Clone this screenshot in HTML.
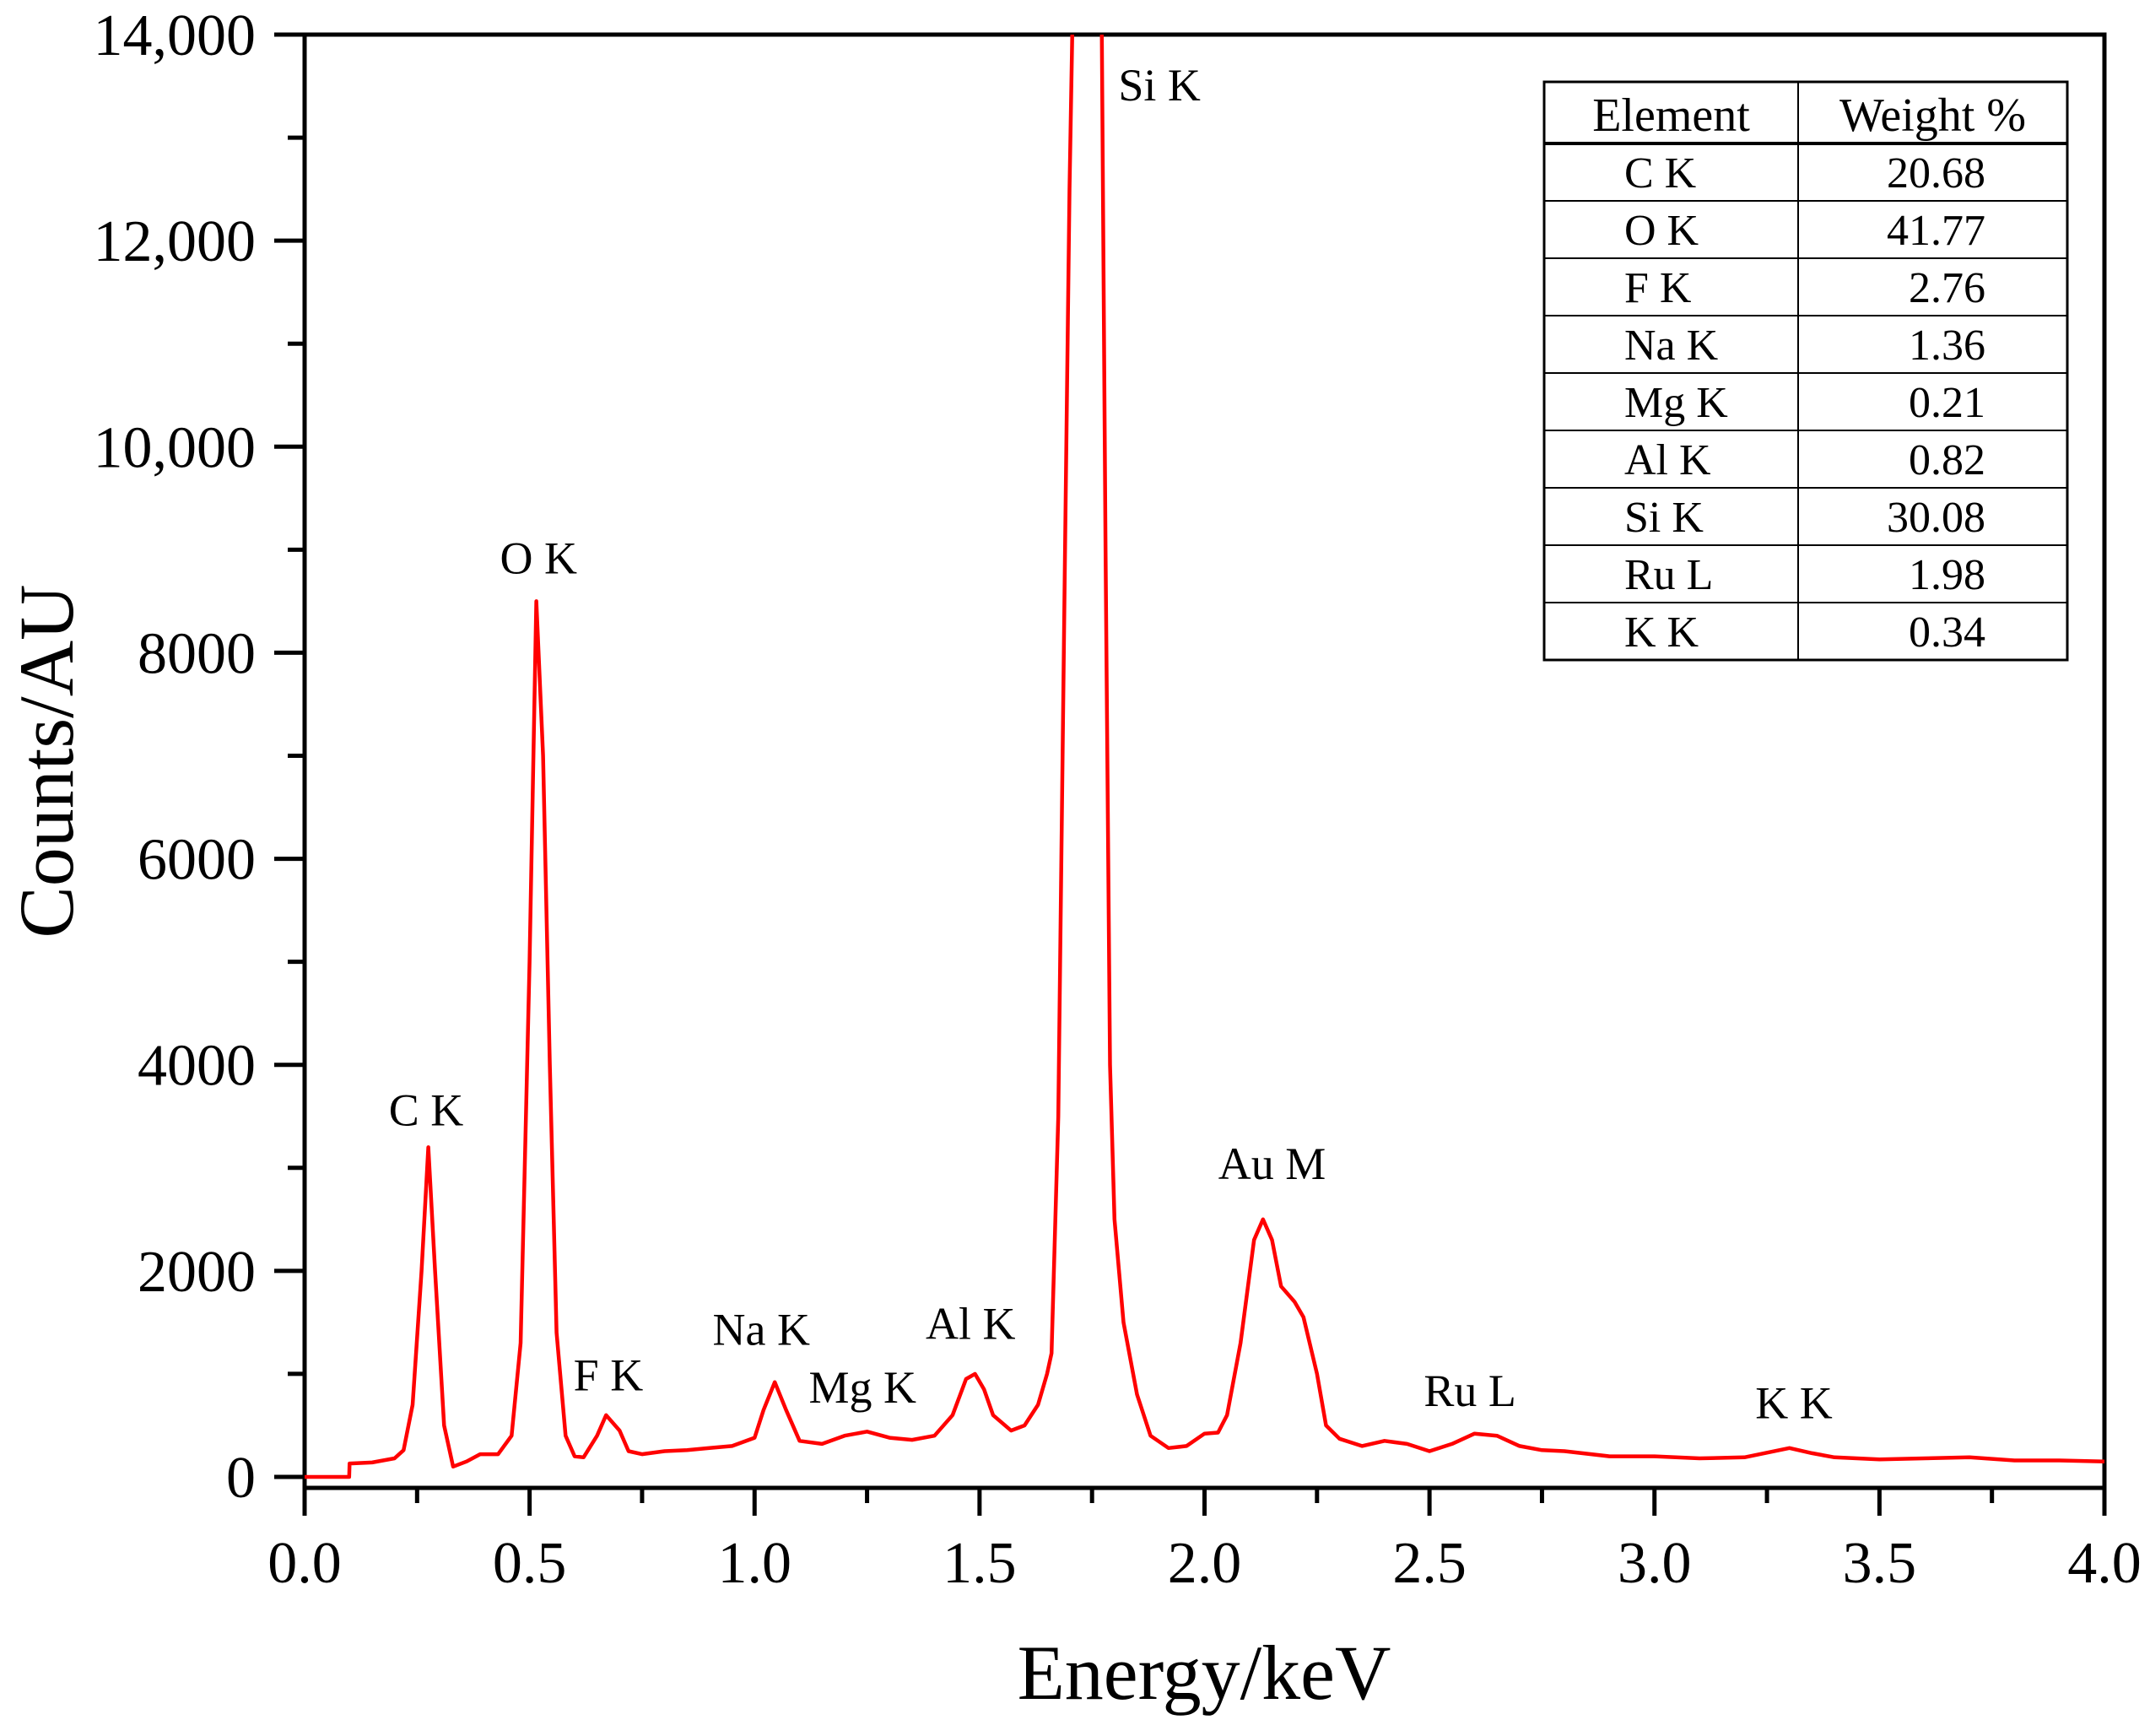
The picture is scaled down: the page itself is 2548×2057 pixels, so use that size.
<!DOCTYPE html>
<html><head><meta charset="utf-8">
<style>
html,body{margin:0;padding:0;background:#fff;}
svg{display:block;font-family:"Liberation Serif",serif;}
</style></head>
<body>
<svg id="chart" width="2548" height="2057" viewBox="0 0 2548 2057" xmlns="http://www.w3.org/2000/svg">
<defs><clipPath id="plotclip"><rect x="361" y="41" width="2133" height="1722"/></clipPath></defs>
<g id="axes"></g>
<g id="series" clip-path="url(#plotclip)"></g>
<g id="labels"></g>
<text x="1427" y="2013" font-size="92" text-anchor="middle">Energy/keV</text>
<text x="0" y="0" font-size="92" text-anchor="middle" transform="translate(86,902) rotate(-90)">Counts/AU</text>
<g id="table"></g>
</svg>
<script>
const energies=[0,0.099,0.1,0.15,0.2,0.22,0.24,0.26,0.275,0.29,0.31,0.33,0.36,0.39,0.43,0.46,0.48,0.50,0.515,0.53,0.545,0.56,0.58,0.60,0.62,0.65,0.67,0.70,0.72,0.75,0.8,0.85,0.9,0.95,1.0,1.02,1.045,1.07,1.1,1.15,1.2,1.25,1.3,1.35,1.4,1.44,1.47,1.49,1.51,1.53,1.57,1.6,1.63,1.65,1.66,1.675,1.69,1.70,1.71,1.74,1.77,1.78,1.79,1.80,1.82,1.85,1.88,1.92,1.96,2.0,2.03,2.05,2.08,2.11,2.13,2.15,2.17,2.2,2.22,2.25,2.27,2.3,2.35,2.4,2.45,2.5,2.55,2.6,2.65,2.7,2.75,2.8,2.9,3.0,3.1,3.2,3.3,3.35,3.4,3.5,3.6,3.7,3.8,3.9,4.0];
const counts=[0,0,130,140,180,260,700,2000,3200,2000,500,100,150,220,220,400,1300,5000,8500,7000,4000,1400,400,200,190,400,600,450,250,220,250,260,280,300,380,650,920,650,350,320,400,440,380,360,400,600,950,1000,850,600,450,500,700,1000,1200,3500,9000,12500,15000,30000,15000,9000,4000,2500,1500,800,400,280,300,420,430,600,1300,2300,2500,2300,1850,1700,1550,1000,500,370,300,350,320,250,320,420,400,300,260,250,200,200,180,190,280,230,190,170,180,190,160,160,150];
const yTicks=[0,2000,4000,6000,8000,10000,12000,14000];
const yTickLabels=["0","2000","4000","6000","8000","10,000","12,000","14,000"];
const xTicks=[0,0.5,1.0,1.5,2.0,2.5,3.0,3.5,4.0];
const xTickLabels=["0.0","0.5","1.0","1.5","2.0","2.5","3.0","3.5","4.0"];
const peakNames=["C K","O K","F K","Na K","Mg K","Al K","Si K","Au M","Ru L","K K"];
const peakE=[0.27,0.52,0.675,1.015,1.24,1.48,1.90,2.15,2.59,3.31];
const peakY=[3410,8770,840,1280,720,1340,13360,2890,690,570];
const tableElements=["C K","O K","F K","Na K","Mg K","Al K","Si K","Ru L","K K"];
const tableWeights=["20.68","41.77","2.76","1.36","0.21","0.82","30.08","1.98","0.34"];

const NS="http://www.w3.org/2000/svg";
const X0=361,X1=2494,Y0=1750,YTOP=41;
const xs=e=>X0+(e/4)*(X1-X0);
const ys=c=>Y0-(c/14000)*(Y0-YTOP);
function mk(tag,attrs,parent){const el=document.createElementNS(NS,tag);for(const k in attrs)el.setAttribute(k,attrs[k]);parent.appendChild(el);return el;}
const axes=document.getElementById('axes');
const fr=mk('rect',{x:X0,y:YTOP,width:X1-X0,height:1763-YTOP,fill:'none',stroke:'#000','stroke-width':5},axes);


for(let v=0;v<=14000;v+=1000){
  const major=v%2000===0;
  const t=mk('line',{x1:X0,x2:X0-(major?36:20),y1:ys(v),y2:ys(v),stroke:'#000','stroke-width':5},axes);
  
  
}
yTicks.forEach((v,i)=>{
  const t=mk('text',{x:303,y:ys(v)+24,'font-size':70,'text-anchor':'end'},axes);
  t.textContent=yTickLabels[i];
  
  
});
for(let k=0;k<=16;k++){
  const e=k*0.25;const major=k%2===0;
  const t=mk('line',{x1:xs(e),x2:xs(e),y1:1763,y2:1763+(major?33:18),stroke:'#000','stroke-width':5},axes);
  
  
}
xTicks.forEach((v,i)=>{
  const t=mk('text',{x:xs(v),y:1875,'font-size':70,'text-anchor':'middle'},axes);
  t.textContent=xTickLabels[i];
  
  
});
const pts=energies.map((e,i)=>xs(e).toFixed(1)+','+ys(counts[i]).toFixed(1)).join(' ');
const line=mk('polyline',{points:pts,fill:'none',stroke:'#ff0000','stroke-width':4.5,'stroke-linejoin':'round'},document.getElementById('series'));


const lab=document.getElementById('labels');
peakNames.forEach((n,i)=>{
  const t=mk('text',{x:xs(peakE[i]),y:ys(peakY[i]),'font-size':54,'text-anchor':'middle'},lab);
  t.textContent=n;
  
  
});
const tb=document.getElementById('table');
const TL=1830,TR=2450,TD=2131,TT=97,HB=170,RH=(782-170)/9;
mk('rect',{x:TL,y:TT,width:TR-TL,height:782-TT,fill:'#fff',stroke:'#000','stroke-width':3},tb);
mk('line',{x1:TD,x2:TD,y1:TT,y2:782,stroke:'#000','stroke-width':2},tb);
mk('line',{x1:TL,x2:TR,y1:HB,y2:HB,stroke:'#000','stroke-width':4},tb);
const h1=mk('text',{x:(TL+TD)/2,y:155,'font-size':56,'text-anchor':'middle'},tb);h1.textContent='Element';


const h2=mk('text',{x:(TD+TR)/2,y:155,'font-size':56,'text-anchor':'middle'},tb);h2.textContent='Weight %';


tableElements.forEach((n,i)=>{
  const yb=HB+RH*(i+1);
  if(i<8)mk('line',{x1:TL,x2:TR,y1:yb,y2:yb,stroke:'#000','stroke-width':2},tb);
  const a=mk('text',{x:1925,y:yb-16,'font-size':52},tb);a.textContent=n;
  
  
  const b=mk('text',{x:2353,y:yb-16,'font-size':52,'text-anchor':'end'},tb);b.textContent=tableWeights[i];
  
  
});
</script>
</body></html>
